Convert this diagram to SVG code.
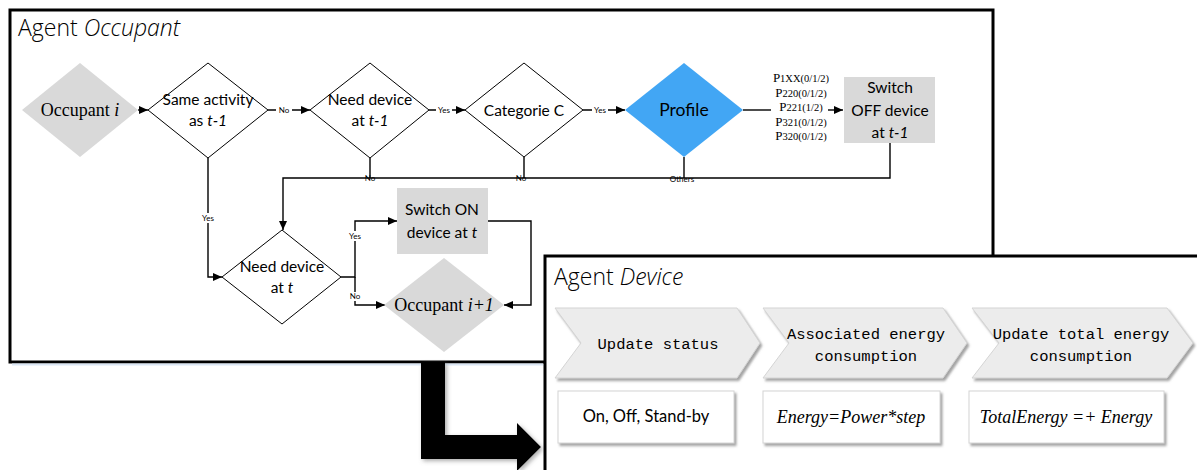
<svg xmlns="http://www.w3.org/2000/svg" width="1197" height="470" viewBox="0 0 1197 470">
<style>
.frame{fill:#fff;stroke:#000;stroke-width:3}
.dia{fill:#fff;stroke:#000;stroke-width:1}
.grey{fill:#d9d9d9;stroke:none}
.blue{fill:#42a6f4;stroke:none}
.ln{fill:none;stroke:#000;stroke-width:1.4}
.arr{marker-end:url(#ah)}
.t{font-family:Lato,"Open Sans",sans-serif;font-size:15.5px;fill:#000;text-anchor:middle}
.ser{font-family:"Liberation Serif",serif;font-size:18px;fill:#000;text-anchor:middle}
.lab{font-family:Lato,"Open Sans",sans-serif;font-size:8px;fill:#000;text-anchor:middle}
.title{font-family:"Open Sans",Lato,sans-serif;font-size:23px;font-weight:300;fill:#000}
.pl{font-family:"Liberation Serif",serif;font-size:10.5px;fill:#000;text-anchor:middle}
.mono{font-family:"Liberation Mono",monospace;font-size:15.5px;fill:#000;text-anchor:middle}
.chev{fill:#ececec;stroke:#d4d4d4;stroke-width:1;filter:url(#sh)}
.wbox{fill:#fff;stroke:#d4d4d4;stroke-width:1;filter:url(#sh)}
.math{font-family:"Liberation Serif",serif;font-style:italic;font-size:18px;fill:#000;text-anchor:middle}
</style>
<defs>
<marker id="ah" markerWidth="9" markerHeight="8" refX="9" refY="4" orient="auto" markerUnits="userSpaceOnUse">
<path d="M0,0 L9,4 L0,8 Z" fill="#000"/>
</marker>
<filter id="sh" x="-5%" y="-5%" width="115%" height="125%">
<feDropShadow dx="2" dy="2.5" stdDeviation="1.2" flood-color="#8c8c8c" flood-opacity="0.8"/>
</filter>
<filter id="sh2" x="-20%" y="-20%" width="150%" height="150%">
<feDropShadow dx="2" dy="2" stdDeviation="2" flood-color="#777" flood-opacity="0.6"/>
</filter>
</defs>

<g id="agent-occupant">
<rect class="frame" x="10" y="10" width="983" height="352"/>
<line x1="12" y1="364.5" x2="543" y2="364.5" stroke="#dbe7f5" stroke-width="2"/>
<text class="title" x="18" y="36">Agent <tspan font-style="italic">Occupant</tspan></text>
</g>

<g id="connectors">
<line class="ln arr" x1="138" y1="110" x2="148" y2="110"/>
<line class="ln arr" x1="268" y1="110" x2="310" y2="110"/>
<line class="ln arr" x1="429" y1="110" x2="465" y2="110"/>
<line class="ln arr" x1="583" y1="110" x2="625" y2="110"/>
<line class="ln" x1="743" y1="110" x2="771" y2="110"/>
<line class="ln arr" x1="828" y1="110" x2="843" y2="110"/>
<polyline class="ln arr" points="890,143 890,178 283,178 283,230"/>
<line class="ln" x1="370" y1="158" x2="370" y2="178"/>
<line class="ln" x1="524" y1="157" x2="524" y2="178"/>
<line class="ln" x1="684" y1="157" x2="684" y2="178"/>
<polyline class="ln arr" points="208,158 208,277 222,277"/>
<polyline class="ln arr" points="341,277 355,277 355,221 397,221"/>
<polyline class="ln arr" points="355,277 355,305 385,305"/>
<polyline class="ln arr" points="488,221 531,221 531,305 504,305"/>
<rect x="276" y="106" width="16" height="9" fill="#fff"/>
<text class="lab" x="284" y="113">No</text>
<rect x="436" y="106" width="16" height="9" fill="#fff"/>
<text class="lab" x="444" y="113">Yes</text>
<rect x="592" y="106" width="16" height="9" fill="#fff"/>
<text class="lab" x="600" y="113">Yes</text>
<text class="lab" x="370" y="181">No</text>
<text class="lab" x="521" y="181">No</text>
<text class="lab" x="682" y="182">Others</text>
<rect x="200" y="213" width="16" height="10" fill="#fff"/>
<text class="lab" x="208" y="221">Yes</text>
<rect x="347" y="231" width="16" height="10" fill="#fff"/>
<text class="lab" x="355" y="239">Yes</text>
<rect x="348" y="292" width="14" height="9" fill="#fff"/>
<text class="lab" x="355" y="299">No</text>
</g>

<g id="occupant-i">
<polygon class="grey" points="80,63 138,110 80,157 22,110"/>
<text class="ser" x="80" y="116">Occupant <tspan font-style="italic">i</tspan></text>
</g>

<g id="same-activity">
<polygon class="dia" points="208,63 268,110 208,158 148,110"/>
<text class="t" x="208" y="105">Same activity</text>
<text class="t" x="208" y="126">as <tspan font-style="italic">t-1</tspan></text>
</g>

<g id="need-device-t-1">
<polygon class="dia" points="370,63 429,110 370,158 310,110"/>
<text class="t" x="370" y="105">Need device</text>
<text class="t" x="370" y="126">at <tspan font-style="italic">t-1</tspan></text>
</g>

<g id="categorie-c">
<polygon class="dia" points="524,63 583,110 524,157 465,110"/>
<text class="t" x="524" y="116">Categorie C</text>
</g>

<g id="profile">
<polygon class="blue" points="684,63 743,110 684,157 625,110"/>
<text class="t" x="684" y="116" style="font-size:17.5px">Profile</text>
</g>

<g id="profile-labels">
<text class="pl" x="801" y="82"><tspan font-size="13">P</tspan>1XX(0/1/2)</text>
<text class="pl" x="801" y="97"><tspan font-size="13">P</tspan>220(0/1/2)</text>
<text class="pl" x="801" y="111"><tspan font-size="13">P</tspan>221(1/2)</text>
<text class="pl" x="801" y="126"><tspan font-size="13">P</tspan>321(0/1/2)</text>
<text class="pl" x="801" y="140"><tspan font-size="13">P</tspan>320(0/1/2)</text>
</g>

<g id="switch-off">
<rect class="grey" x="844" y="77" width="91" height="66"/>
<text class="t" x="890" y="93">Switch</text>
<text class="t" x="890" y="116">OFF device</text>
<text class="t" x="890" y="138">at <tspan font-style="italic">t-1</tspan></text>
</g>

<g id="need-device-t">
<polygon class="dia" points="282,230 341,277 282,324 222,277"/>
<text class="t" x="282" y="272">Need device</text>
<text class="t" x="282" y="293">at <tspan font-style="italic">t</tspan></text>
</g>

<g id="switch-on">
<rect class="grey" x="397" y="188" width="91" height="66"/>
<text class="t" x="442" y="215">Switch ON</text>
<text class="t" x="442" y="238">device at <tspan font-style="italic">t</tspan></text>
</g>

<g id="occupant-i1">
<polygon class="grey" points="444,258 504,305 444,352 384,305"/>
<text class="ser" x="444" y="311">Occupant <tspan font-style="italic">i+1</tspan></text>
</g>

<g id="big-arrow">
<polygon points="421,362 445,362 445,435 517,435 517,423 541,447 517,471 517,459 421,459" fill="#000" filter="url(#sh2)"/>
</g>

<g id="agent-device">
<rect class="frame" x="545" y="256" width="660" height="220"/>
<text class="title" x="554" y="285">Agent <tspan font-style="italic">Device</tspan></text>
</g>

<g id="update-status">
<polygon class="chev" points="555,308 737,308 760,343 737,378 555,378 581,343"/>
<text class="mono" x="658" y="349">Update status</text>
</g>

<g id="associated-energy">
<polygon class="chev" points="763,308 943,308 967,343 943,378 763,378 789,343"/>
<text class="mono" x="866" y="339">Associated energy</text>
<text class="mono" x="866" y="361">consumption</text>
</g>

<g id="update-total">
<polygon class="chev" points="972,308 1167,308 1193,343 1167,378 972,378 999,343"/>
<text class="mono" x="1081" y="339">Update total energy</text>
<text class="mono" x="1081" y="361">consumption</text>
</g>

<g id="status-values">
<rect class="wbox" x="558" y="391" width="176" height="52"/>
<text class="t" x="646" y="422" style="font-size:16.5px">On, Off, Stand-by</text>
</g>

<g id="energy-formula">
<rect class="wbox" x="763" y="391" width="177" height="52"/>
<text class="math" x="851" y="423">Energy=Power*step</text>
</g>

<g id="total-formula">
<rect class="wbox" x="969" y="391" width="195" height="52"/>
<text class="math" x="1066" y="423">TotalEnergy =+ Energy</text>
</g>
</svg>
